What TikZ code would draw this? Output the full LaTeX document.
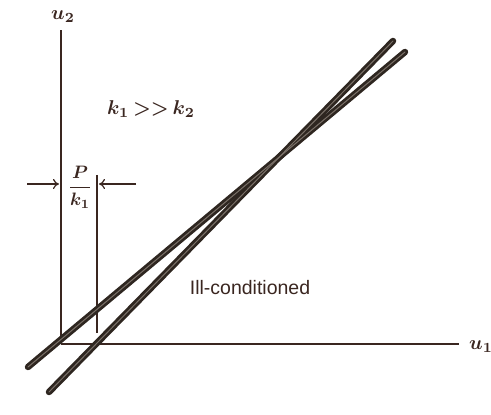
\documentclass[tikz,border=0pt]{standalone}
\usepackage{fontspec}
\setsansfont{Liberation Sans}
\usetikzlibrary{arrows.meta}
\definecolor{ink}{HTML}{3A2620}
\definecolor{rod}{HTML}{2E2620}
\definecolor{rodcoreclr}{HTML}{7A7068}
\begin{document}
\begin{tikzpicture}[x=1pt,y=1pt,
  axis/.style={draw=ink, line width=1.4pt},
  rodline/.style={draw=rod, line width=6.5pt, line cap=round},
  rodcore/.style={draw=rodcoreclr, line width=1pt, line cap=round},
  dimarrow/.style={draw=ink, line width=1.2pt, -{To[length=6pt,width=10pt]}},
  lbl/.style={text=ink, inner sep=0pt, font=\boldmath, scale=2.0}]
\useasboundingbox (0,0) rectangle (491,415);
% axes
\coordinate (O) at (61,71);
\coordinate (Ytop) at (61,385);
\coordinate (Xend) at (459,71);
\draw[axis] (O) -- (Ytop);
\draw[axis] (O) -- (Xend);
\node[lbl] (u2) at (63,398) {$u_2$};
\node[lbl] (u1) at (481,68) {$u_1$};
% offset marker
\coordinate (Mtop) at (97,240);
\coordinate (Mbot) at (97,82);
\draw[axis] (Mtop) -- (Mbot);
\coordinate (La) at (27,231);
\coordinate (Lb) at (59,231);
\coordinate (Ra) at (136,231);
\coordinate (Rb) at (99,231);
\draw[dimarrow] (La) -- (Lb);
\draw[dimarrow] (Ra) -- (Rb);
\node[lbl, scale=0.9] (frac) at (80,228) {$\displaystyle\frac{P}{k_1}$};
% rods
\coordinate (A1) at (28,48);
\coordinate (A2) at (405,363);
\coordinate (B1) at (49,23);
\coordinate (B2) at (393,374);
\draw[rodline] (A1) -- (A2);
\draw[rodline] (B1) -- (B2);
\draw[rodcore] (A1) -- (A2);
\draw[rodcore] (B1) -- (B2);
% texts
\node[lbl] (kk) at (151,306) {$k_1\,{>}{>}\,k_2$};
\node[text=ink, inner sep=0pt, font=\sffamily\fontsize{19.5}{22}\selectfont] (ill) at (250,127) {Ill-conditioned};
\end{tikzpicture}
\end{document}
